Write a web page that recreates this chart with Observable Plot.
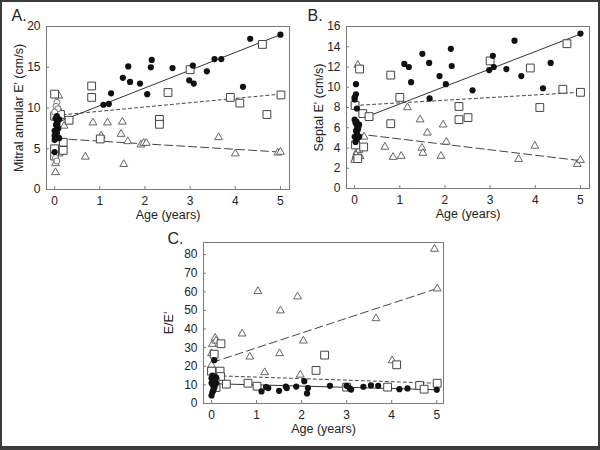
<!DOCTYPE html>
<html>
<head>
<meta charset="utf-8">
<script src="https://cdn.jsdelivr.net/npm/d3@7"></script>
<script src="https://cdn.jsdelivr.net/npm/@observablehq/plot@0.6"></script>
<style>
  html, body { margin: 0; padding: 0; background: #fff; }
  #page { position: relative; width: 600px; height: 450px; overflow: hidden; background: #fff; }
  #page > div.panel { position: absolute; }
  #border { position: absolute; left: 0; top: 0; width: 600px; height: 450px; box-sizing: border-box;
            border: 2px solid #3c3c3c; border-bottom-width: 4px; pointer-events: none; }
</style>
</head>
<body>
<div id="page">
  <div class="panel" id="pA" style="left:0px;top:0px"></div>
  <div class="panel" id="pB" style="left:300px;top:0px"></div>
  <div class="panel" id="pC" style="left:150px;top:220px"></div>
  <div id="border"></div>
</div>
<script>
// ---------- tick labels ----------
const ageTicks = [0, 1, 2, 3, 4, 5];
const mitralTicks = [0, 5, 10, 15, 20];
const septalTicks = [0, 2, 4, 6, 8, 10, 12, 14, 16];
const ratioTicks = [0, 10, 20, 30, 40, 50, 60, 70, 80];

// ---------- Panel A: Mitral annular E' (cm/s) [age, value] ----------
const aCircles = [[0.0,4.6],[0.0,6.1],[0.02,6.5],[0.03,6.8],[0.05,7.0],[0.0,7.2],[0.04,7.3],[0.08,7.5],[0.06,7.6],[0.03,7.9],[0.05,8.2],[0.07,8.4],[0.1,8.6],[0.02,8.7],[0.05,9.0],[0.1,6.3],[0.0,6.6],[0.06,8.0],
  [1.08,10.4],[1.2,10.5],[1.25,11.8],[1.51,13.7],[1.63,15.1],[1.67,13.2],[1.89,13.0],[2.05,11.7],[2.13,15.0],[2.15,15.9],[2.61,14.9],[2.98,13.4],[3.06,15.2],[3.08,13.0],[3.37,14.5],[3.54,16.0],[3.69,16.0],[4.17,12.6],[4.33,18.5],[5.0,19.0]];
const aOpenCircles = [[0.05,10.7],[0.03,10.2],[0.07,9.9],[0.0,9.5],[0.02,3.9],[0.05,3.5]];
const aSquares = [[0.0,4.1],[0.0,5.0],[0.0,11.7],[0.0,9.0],[0.13,9.2],[0.19,5.8],[0.19,4.8],[0.32,8.5],[0.82,12.7],[0.82,11.3],[1.01,6.2],[2.32,8.6],[2.32,8.0],[2.51,11.9],[3.0,14.7],[3.89,11.3],[4.1,10.6],[4.6,17.8],[4.7,9.2],[5.01,11.6]];
const aTriangles = [[0.09,11.5],[0.11,9.7],[0.21,7.8],[0.07,6.6],[0.02,3.2],[0.02,2.1],[0.1,4.4],[0.68,4.0],[0.85,8.2],[1.03,6.6],[1.17,8.2],[1.47,6.8],[1.5,8.3],[1.53,3.1],[1.62,5.9],[1.91,5.5],[1.97,5.7],[2.03,5.7],[3.63,6.4],[4.0,4.4],[4.94,4.5],[5.0,4.6]];
const aFitSolid = [[0.16,8.45],[5.0,19.0]];
const aFitDotted = [[0.05,9.1],[5.0,11.7]];
const aFitDashed = [[0.05,6.25],[5.0,4.6]];

// ---------- Panel B: Septal E' (cm/s) ----------
const bCircles = [[0.03,10.3],[0.03,9.3],[0.0,9.0],[0.0,8.8],[0.05,7.9],[0.0,6.8],[0.02,6.5],[0.05,6.2],[0.1,6.3],[0.08,6.0],[0.03,5.7],[0.05,5.4],[0.0,5.1],[0.05,4.9],[0.02,4.6],[0.07,5.8],[0.1,5.1],[0.04,6.6],
  [1.1,12.3],[1.2,12.0],[1.25,10.5],[1.5,13.3],[1.65,12.4],[1.66,8.9],[1.88,11.1],[2.02,10.3],[2.13,13.8],[2.15,12.1],[2.61,9.7],[2.98,11.7],[3.06,13.1],[3.08,12.0],[3.36,11.8],[3.54,14.6],[3.69,11.1],[4.17,9.9],[4.34,12.4],[5.0,15.3]];
const bSquares = [[0.11,11.8],[0.01,8.2],[0.02,4.3],[0.07,2.95],[0.18,7.4],[0.2,4.1],[0.32,7.1],[0.8,11.2],[0.8,6.4],[1.0,9.0],[2.31,8.1],[2.31,6.8],[2.51,7.0],[3.0,12.6],[3.89,11.9],[4.1,8.0],[4.61,9.8],[4.7,14.3],[5.0,9.5]];
const bTriangles = [[0.07,12.2],[0.02,3.0],[0.0,2.8],[0.05,3.6],[0.1,3.8],[0.12,3.2],[0.03,3.3],[0.21,5.1],[0.67,4.1],[0.85,3.1],[1.03,3.2],[1.17,8.0],[1.45,6.8],[1.49,4.0],[1.51,3.5],[1.61,5.5],[1.91,3.2],[1.96,6.3],[2.03,4.6],[3.63,2.9],[3.99,4.2],[4.93,2.4],[5.0,2.8]];
const bFitSolid = [[0.33,7.2],[5.0,15.25]];
const bFitDotted = [[0.0,8.2],[5.0,9.5]];
const bFitDashed = [[0.05,5.4],[5.0,2.75]];

// ---------- Panel C: E/E' ----------
const cCircles = [[0.06,23.3],[0.0,4.3],[0.02,6.0],[0.05,8.0],[0.03,10.0],[0.0,11.0],[0.05,12.0],[0.08,13.0],[0.1,14.0],[0.02,15.0],[0.07,9.0],[0.1,11.0],[0.04,7.0],[0.0,13.5],[0.06,10.5],
  [1.11,6.5],[1.21,8.8],[1.26,8.3],[1.5,6.8],[1.65,9.1],[1.67,8.3],[1.88,9.1],[2.06,12.0],[2.12,5.4],[2.14,8.3],[2.63,9.5],[3.0,9.5],[3.07,8.1],[3.1,7.5],[3.37,9.0],[3.54,9.7],[3.7,9.5],[4.17,7.7],[4.35,8.1],[5.0,7.4]];
const cSquares = [[0.06,26.5],[0.21,32.1],[0.0,17.4],[0.19,17.4],[0.2,14.5],[0.1,8.6],[0.08,12.0],[0.33,10.4],[0.81,10.9],[1.01,9.3],[2.32,17.8],[2.51,26.0],[3.0,8.8],[3.91,8.8],[4.11,20.8],[4.62,9.7],[4.72,7.7],[5.01,10.9]];
const cTriangles = [[0.0,20.6],[0.0,26.9],[0.02,31.9],[0.08,35.2],[0.1,33.7],[0.68,37.5],[0.85,25.1],[1.03,60.3],[1.18,16.7],[1.53,49.9],[1.51,26.9],[1.91,57.4],[1.97,15.4],[2.04,33.7],[3.65,45.7],[4.01,23.1],[4.95,83.0],[5.01,61.7]];
const cFitSolid = [[0.1,10.6],[5.0,7.4]];
const cFitDotted = [[0.13,14.9],[5.0,10.9]];
const cFitDashed = [[0.02,22.1],[5.0,61.7]];

const X = d => d[0], Y = d => d[1];
const FONT = "'Liberation Sans', Arial, Helvetica, sans-serif";

function panel(cfg) {
  const marks = [
    Plot.frame({stroke: "#7a7a7a", strokeWidth: 1}),
    // inward tick marks
    Plot.tickX(ageTicks, {x: d => d, stroke: "#7a7a7a", insetTop: cfg.frameH - 3}),
    Plot.tickY(cfg.yTicks, {y: d => d, stroke: "#7a7a7a", insetRight: cfg.frameW - 3}),
    Plot.axisX({ticks: ageTicks, tickSize: 0, tickPadding: 7, tickFormat: d => String(d), fontSize: 12, label: null}),
    Plot.axisY({ticks: cfg.yTicks, tickSize: 0, tickPadding: 6, tickFormat: d => String(d), fontSize: 12, label: null}),
    // fit lines
    Plot.line(cfg.fitDashed, {x: X, y: Y, stroke: "#444", strokeWidth: 1, strokeDasharray: "8,4"}),
    Plot.line(cfg.fitDotted, {x: X, y: Y, stroke: "#444", strokeWidth: 1, strokeDasharray: "3,3"}),
    Plot.line(cfg.fitSolid, {x: X, y: Y, stroke: "#333", strokeWidth: 1}),
    // points
    Plot.dot(cfg.triangles, {x: X, y: Y, symbol: "triangle", r: 2.9, fill: "#fff", stroke: "#555", strokeWidth: 0.9}),
    Plot.dot(cfg.squares, {x: X, y: Y, symbol: "square", r: 4.4, fill: "#fff", stroke: "#444", strokeWidth: 1}),
    ...(cfg.openCircles ? [Plot.dot(cfg.openCircles, {x: X, y: Y, r: 3, fill: "#fff", stroke: "#666", strokeWidth: 0.9})] : []),
    Plot.dot(cfg.circles, {x: X, y: Y, r: 3.1, fill: "#111", stroke: "none"}),
    // titles / labels
    Plot.text(["Age (years)"], {frameAnchor: "bottom", dy: 25, lineAnchor: "middle", textAnchor: "middle", text: d => d, fontSize: 12.5, fill: "#222"}),
    Plot.text([cfg.yLabel], {frameAnchor: "left", rotate: -90, dx: cfg.yLabelDx, lineAnchor: "middle", textAnchor: "middle", text: d => d, fontSize: 12.5, fill: "#222"}),
    Plot.text([cfg.letter], {frameAnchor: "top-left", dx: cfg.letterDx, dy: cfg.letterDy, lineAnchor: "middle", textAnchor: "start", text: d => d, fontSize: 16, fill: "#222"})
  ];
  return Plot.plot({
    width: cfg.width, height: cfg.height,
    marginLeft: cfg.ml, marginRight: cfg.mr, marginTop: cfg.mt, marginBottom: cfg.mb,
    style: {fontFamily: FONT, fontSize: "12px", color: "#222", background: "transparent", overflow: "visible"},
    x: {domain: cfg.xDomain},
    y: {domain: cfg.yDomain},
    marks
  });
}

const A = {width: 300, height: 220, ml: 46, mr: 11, mt: 26, mb: 31,
  xDomain: [-0.18, 5.2], yDomain: [0, 20], yTicks: mitralTicks,
  circles: aCircles, openCircles: aOpenCircles, squares: aSquares, triangles: aTriangles,
  fitSolid: aFitSolid, fitDotted: aFitDotted, fitDashed: aFitDashed,
  yLabel: "Mitral annular E' (cm/s)", yLabelDx: -28, letter: "A.", letterDx: -35, letterDy: -11};
A.frameW = A.width - A.ml - A.mr; A.frameH = A.height - A.mt - A.mb;

const B = {width: 300, height: 220, ml: 46, mr: 11, mt: 26, mb: 32,
  xDomain: [-0.18, 5.2], yDomain: [0, 16], yTicks: septalTicks,
  circles: bCircles, openCircles: null, squares: bSquares, triangles: bTriangles,
  fitSolid: bFitSolid, fitDotted: bFitDotted, fitDashed: bFitDashed,
  yLabel: "Septal E' (cm/s)", yLabelDx: -28, letter: "B.", letterDx: -39, letterDy: -11};
B.frameW = B.width - B.ml - B.mr; B.frameH = B.height - B.mt - B.mb;

const C = {width: 300, height: 215, ml: 53, mr: 7, mt: 22, mb: 32,
  xDomain: [-0.178, 5.15], yDomain: [0, 86.5], yTicks: ratioTicks,
  circles: cCircles, openCircles: null, squares: cSquares, triangles: cTriangles,
  fitSolid: cFitSolid, fitDotted: cFitDotted, fitDashed: cFitDashed,
  yLabel: "E/E'", yLabelDx: -35, letter: "C.", letterDx: -36, letterDy: -4};
C.frameW = C.width - C.ml - C.mr; C.frameH = C.height - C.mt - C.mb;

document.getElementById("pA").appendChild(panel(A));
document.getElementById("pB").appendChild(panel(B));
document.getElementById("pC").appendChild(panel(C));
</script>
</body>
</html>
